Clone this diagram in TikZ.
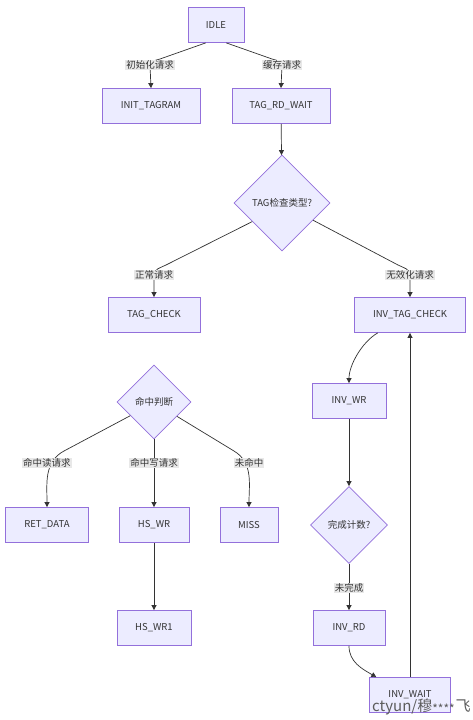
\documentclass[tikz,border=0pt]{standalone}
\usepackage{fontspec}
\setmainfont{Noto Sans CJK SC}
\usetikzlibrary{shapes.geometric,arrows.meta}
\definecolor{nfill}{HTML}{ECECFF}
\definecolor{nstroke}{HTML}{9370DB}
\definecolor{ecol}{HTML}{333333}
\definecolor{lbg}{HTML}{E8E8E8}
\begin{document}
\begin{tikzpicture}[x=1pt,y=1pt,
  box/.style={draw=nstroke, fill=nfill, line width=0.8pt, minimum height=35pt, inner xsep=0pt, font=\fontsize{9.5}{11}\selectfont, text=ecol},
  dia/.style={diamond, draw=nstroke, fill=nfill, line width=0.8pt, inner sep=0pt, font=\fontsize{9.5}{11}\selectfont, text=ecol},
  lbl/.style={fill=lbg, inner sep=1pt, font=\fontsize{9.5}{11}\selectfont, text=ecol},
  edge/.style={draw=ecol, line width=0.7pt, -{Triangle[length=5pt,width=5pt]}}]
\useasboundingbox[fill=white] (0,0) rectangle (472,-720);
% nodes
\node[box, minimum width=56pt] (idle) at (216,-25) {IDLE};
\node[box, minimum width=98pt] (init) at (151,-106) {INIT\_TAGRAM};
\node[box, minimum width=98pt] (trw) at (281,-106) {TAG\_RD\_WAIT};
\node[dia, minimum width=96pt, minimum height=96pt] (tchk) at (282,-203) {TAG检查类型?};
\node[box, minimum width=92pt] (tagc) at (154,-315) {TAG\_CHECK};
\node[box, minimum width=111pt] (itc) at (410,-315) {INV\_TAG\_CHECK};
\node[dia, minimum width=74pt, minimum height=74pt] (hit) at (154,-402) {命中判断};
\node[box, minimum width=83pt] (ret) at (47,-525) {RET\_DATA};
\node[box, minimum width=70pt] (hswr) at (154,-525) {HS\_WR};
\node[box, minimum width=58pt] (miss) at (249,-525) {MISS};
\node[box, minimum width=74pt] (hswr1) at (154,-628) {HS\_WR1};
\node[box, minimum width=74pt] (invwr) at (349,-401) {INV\_WR};
\node[dia, minimum width=77pt, minimum height=77pt] (done) at (349,-525) {完成计数?};
\node[box, minimum width=72pt] (invrd) at (349,-628) {INV\_RD};
\node[box, minimum width=81pt] (invw) at (410,-695) {INV\_WAIT};
% label positions
\coordinate (c1) at (150,-65);
\coordinate (c2) at (282,-65);
\coordinate (c3) at (154,-275);
\coordinate (c4) at (410,-275);
\coordinate (c5) at (47,-463);
\coordinate (c6) at (154,-463);
\coordinate (c7) at (249,-463);
\coordinate (c8) at (349,-588);
% bend points
\coordinate (b1) at (160,-59);
\coordinate (b2) at (272,-59);
\coordinate (b3) at (166,-265);
\coordinate (b4) at (398,-265);
\coordinate (b5) at (64,-451);
\coordinate (b7) at (234,-451);
% edges
\draw[edge] (idle.-120) -- (b1) to[out=-160,in=90] (c1) -- (init.north);
\draw[edge] (idle.-60) -- (b2) to[out=-20,in=90] (c2) -- (trw.north);
\draw[edge] (trw) -- (tchk);
\draw[edge] (tchk.-148) -- (b3) to[out=-153,in=90] (c3) -- (tagc.north);
\draw[edge] (tchk.-29) -- (b4) to[out=-27,in=90] (c4) -- (itc.north);
\draw[edge] (hit.-150) -- (b5) to[out=-152,in=90] (ret.north);
\draw[edge] (hit) -- (hswr);
\draw[edge] (hit.-32) -- (b7) to[out=-31,in=90] (miss.north);
\draw[edge] (hswr) -- (hswr1);
\draw[edge] (itc.-151) to[out=-150,in=90,looseness=0.8] (invwr.north);
\draw[edge] (invwr) -- (done);
\draw[edge] (done) -- (invrd);
\draw[edge] (invrd.south) to[out=-90,in=150] (invw.152);
\draw[edge] (invw) -- (itc);
% labels
\node[lbl] (l1) at (c1) {初始化请求};
\node[lbl] (l2) at (c2) {缓存请求};
\node[lbl] (l3) at (c3) {正常请求};
\node[lbl] (l4) at (c4) {无效化请求};
\node[lbl] (l5) at (c5) {命中读请求};
\node[lbl] (l6) at (c6) {命中写请求};
\node[lbl] (l7) at (c7) {未命中};
\node[lbl] (l8) at (c8) {未完成};
% watermark
\node[anchor=base west, inner sep=0pt, font=\fontsize{15}{16}\selectfont, text=ecol!80] (wm) at (372,-711) {ctyun/穆{\fontsize{12}{12}\selectfont\raisebox{-2pt}{****}}\kern1pt 飞};
\end{tikzpicture}
\end{document}
